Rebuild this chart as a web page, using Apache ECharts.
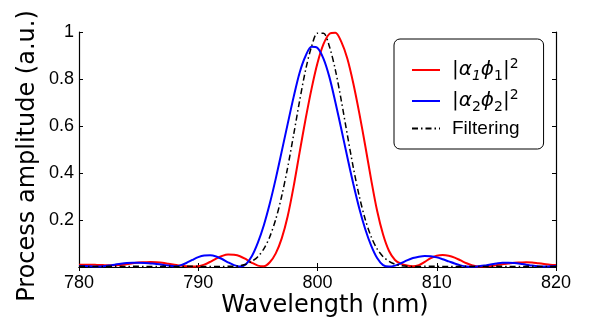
<!DOCTYPE html>
<html>
<head>
<meta charset="utf-8">
<script src="https://cdn.jsdelivr.net/npm/echarts@6/dist/echarts.min.js"></script>
<style>
html,body{margin:0;padding:0;background:#fff;}
#chart{width:592px;height:334px;}
</style>
</head>
<body>
<div id="chart"></div>
<script>
var wavelength = [780,780.5,781,781.5,782,782.5,783,783.5,784,784.5,785,785.5,786,786.5,787,787.5,788,788.5,789,789.5,
790,790.5,791,791.5,792,792.5,793,793.5,794,794.5,795,795.5,796,796.5,797,797.5,798,798.5,799,799.5,
800,800.5,801,801.5,802,802.5,803,803.5,804,804.5,805,805.5,806,806.5,807,807.5,808,808.5,809,809.5,
810,810.5,811,811.5,812,812.5,813,813.5,814,814.5,815,815.5,816,816.5,817,817.5,818,818.5,819,819.5,820];

var process1 = [0.010,0.010,0.010,0.009,0.008,0.007,0.007,0.009,0.012,0.016,0.019,0.020,0.021,0.020,0.018,0.014,0.010,0.006,0.003,0.002,
0.003,0.010,0.022,0.036,0.047,0.053,0.052,0.046,0.033,0.018,0.006,0.003,0.020,0.058,0.122,0.216,0.343,0.488,0.629,0.758,
0.868,0.948,0.992,0.997,0.958,0.887,0.782,0.656,0.517,0.372,0.239,0.138,0.068,0.030,0.014,0.006,0.003,0.008,0.022,0.038,
0.048,0.051,0.048,0.040,0.028,0.016,0.007,0.002,0.002,0.004,0.008,0.012,0.015,0.018,0.019,0.020,0.019,0.016,0.013,0.010,0.008];

var process2 = [0.004,0.004,0.003,0.002,0.003,0.006,0.010,0.014,0.017,0.018,0.018,0.017,0.015,0.013,0.010,0.006,0.003,0.007,0.017,0.030,
0.042,0.049,0.050,0.045,0.034,0.020,0.008,0.002,0.012,0.047,0.104,0.178,0.270,0.376,0.492,0.609,0.724,0.827,0.898,0.937,
0.932,0.887,0.808,0.701,0.586,0.468,0.354,0.250,0.162,0.091,0.038,0.008,0.002,0.006,0.016,0.028,0.038,0.044,0.047,0.046,
0.041,0.033,0.024,0.015,0.007,0.002,0.001,0.003,0.006,0.011,0.015,0.018,0.018,0.017,0.014,0.010,0.006,0.003,0.002,0.003,0.004];

var filtering = [0.003,0.003,0.002,0.002,0.002,0.003,0.003,0.002,0.002,0.003,0.003,0.002,0.002,0.002,0.003,0.003,0.002,0.002,0.003,0.003,
0.003,0.002,0.002,0.002,0.002,0.003,0.003,0.006,0.012,0.024,0.044,0.077,0.129,0.203,0.302,0.424,0.563,0.707,0.838,0.938,
0.995,0.995,0.938,0.838,0.707,0.563,0.424,0.302,0.203,0.129,0.077,0.044,0.024,0.012,0.006,0.003,0.002,0.002,0.003,0.003,
0.003,0.002,0.002,0.002,0.003,0.003,0.002,0.002,0.002,0.003,0.003,0.003,0.002,0.002,0.002,0.003,0.003,0.002,0.002,0.002,0.002];

var seriesNames = ['p1', 'p2', 'Filtering'];
var xTicks = [780, 790, 800, 810, 820];
var yTicks = [0.2, 0.4, 0.6, 0.8, 1];
var xTitle = 'Wavelength (nm)';
var yTitle = 'Process amplitude (a.u.)';

function pairs(ys) { return wavelength.map(function (x, i) { return [x, ys[i]]; }); }

var tickFont = 'Liberation Sans, Arial, sans-serif';
var chart = echarts.init(document.getElementById('chart'), null, {renderer: 'canvas'});

var axisCommon = {
  axisLine: {show: true, lineStyle: {color: '#000', width: 1.2}},
  axisTick: {show: true, inside: true, length: 4, lineStyle: {color: '#000', width: 1}},
  splitLine: {show: false}
};

var option = {
  animation: false,
  backgroundColor: '#fff',
  grid: {left: 79, right: 36, top: 32, bottom: 67, containLabel: false},
  xAxis: [
    Object.assign({type: 'value', min: xTicks[0], max: xTicks[xTicks.length - 1], interval: 10, position: 'bottom',
      axisLabel: {color: '#000', fontFamily: tickFont, fontSize: 18, margin: 7,
        formatter: function (v) { return xTicks.indexOf(v) >= 0 ? String(v) : ''; }}}, axisCommon),
    Object.assign({type: 'value', min: xTicks[0], max: xTicks[xTicks.length - 1], interval: 10, position: 'top',
      axisLabel: {show: false}}, axisCommon)
  ],
  yAxis: [
    Object.assign({type: 'value', min: 0, max: 1, interval: 0.2, position: 'left',
      axisLabel: {color: '#000', fontFamily: tickFont, fontSize: 18, margin: 5,
        formatter: function (v) {
          for (var i = 0; i < yTicks.length; i++) { if (Math.abs(v - yTicks[i]) < 1e-6) { return yTicks[i] === 1 ? '1' : yTicks[i].toFixed(1); } }
          return '';
        }}}, axisCommon),
    Object.assign({type: 'value', min: 0, max: 1, interval: 0.2, position: 'right',
      axisLabel: {show: false}}, axisCommon)
  ],
  legend: {
    orient: 'vertical',
    left: 394, top: 39,
    padding: [18, 24, 11, 17],
    itemGap: 5,
    itemWidth: 28,
    itemHeight: 2,
    backgroundColor: '#fff',
    borderColor: '#000',
    borderWidth: 1,
    borderRadius: 6,
    itemStyle: {color: 'rgba(0,0,0,0)', borderWidth: 0, opacity: 0},
    data: seriesNames,
    formatter: function (name) {
      if (name === 'p1') { return '{n|\u007C}{g|\u03B1}{si|1}{g|\u03D5}{s|1}{n|\u007C}{p|2}'; }
      if (name === 'p2') { return '{n|\u007C}{g|\u03B1}{s|2}{g|\u03D5}{s|2}{n|\u007C}{p|2}'; }
      return '{f|' + name + '}';
    },
    textStyle: {
      color: '#000',
      padding: [0, 0, 0, 7],
      rich: {
        n: {fontFamily: 'DejaVu Sans', fontSize: 20, lineHeight: 26, color: '#000'},
        g: {fontFamily: 'DejaVu Sans', fontStyle: 'italic', fontSize: 20, lineHeight: 26, color: '#000'},
        s: {fontFamily: 'DejaVu Sans', fontSize: 14, lineHeight: 14, verticalAlign: 'bottom', color: '#000'},
        si: {fontFamily: 'DejaVu Sans', fontStyle: 'italic', fontSize: 14, lineHeight: 14, verticalAlign: 'bottom', color: '#000'},
        p: {fontFamily: 'DejaVu Sans', fontSize: 14, lineHeight: 14, verticalAlign: 'top', color: '#000'},
        f: {fontFamily: tickFont, fontSize: 19, lineHeight: 26, color: '#000'}
      }
    }
  },
  graphic: [
    {type: 'text', x: 325, y: 306, style: {text: xTitle, font: '24px "DejaVu Sans"', fill: '#000', textAlign: 'center', textVerticalAlign: 'middle'}},
    {type: 'text', rotation: Math.PI / 2, x: 28, y: 156, style: {text: yTitle, font: '24px "DejaVu Sans"', fill: '#000', textAlign: 'center', textVerticalAlign: 'middle'}}
  ],
  series: [
    {name: seriesNames[0], type: 'line', data: pairs(process1), symbol: 'none', smooth: 0.3, color: '#ff0000',
      lineStyle: {color: '#ff0000', width: 2}, z: 2},
    {name: seriesNames[1], type: 'line', data: pairs(process2), symbol: 'none', smooth: 0.3, color: '#0000ff',
      lineStyle: {color: '#0000ff', width: 2}, z: 3},
    {name: seriesNames[2], type: 'line', data: pairs(filtering), symbol: 'none', smooth: 0.3, color: '#000',
      lineStyle: {color: '#000', width: 1.5, type: [6, 3, 1.5, 3]}, z: 4}
  ]
};
chart.setOption(option);
</script>
</body>
</html>
